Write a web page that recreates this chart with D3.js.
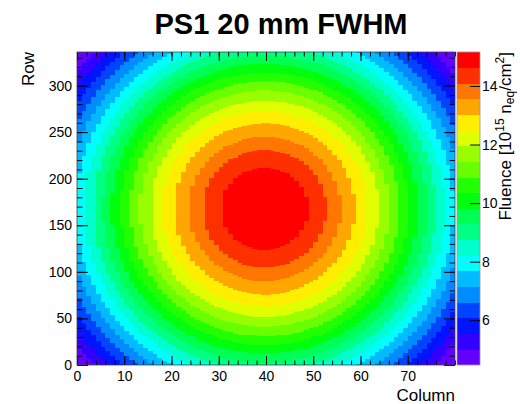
<!DOCTYPE html>
<html>
<head>
<meta charset="utf-8">
<script src="https://cdn.jsdelivr.net/npm/d3@7"></script>
<style>
  body { margin: 0; background: #fff; }
  svg { display: block; }
  text { font-family: "Liberation Sans", Arial, Helvetica, sans-serif; fill: #000; }
</style>
</head>
<body>
<div id="chart"></div>
<script>
// FE-I4 matrix: 80 columns x 336 rows
const nColumns = 80;
const nRows = 336;
// beam spot centre (column, row) and rows per column of the same length
const beamCentre = [39.7, 168];
const rowsPerColumn = 4.8;
// z axis (fluence, 10^15 neq/cm2) and its contour count
const zRange = [4.47, 15.16];
const nContours = 20;
// outer radius (columns) of each contour band, from the hottest band outwards
const bandEdges = [9.2, 13.1, 16.1, 19.1, 21.8, 24.2, 26.4, 28.5, 30.5, 32.4,
                   34.3, 36.2, 38.1, 40.0, 42.0, 44.0, 46.0, 48.0, 50.1];
const xTicks = [0, 10, 20, 30, 40, 50, 60, 70];
const yTicks = [0, 50, 100, 150, 200, 250, 300];
const zTicks = [6, 8, 10, 12, 14];

const width = 520, height = 404;
const frame = { left: 77, right: 455, top: 52, bottom: 365 };
const bar = { left: 457, right: 480 };

const svg = d3.select('#chart').append('svg')
  .attr('width', width)
  .attr('height', height);

const x = d3.scaleLinear().domain([0, nColumns]).range([frame.left, frame.right]);
const y = d3.scaleLinear().domain([0, nRows]).range([frame.bottom, frame.top]);
const z = d3.scaleLinear().domain(zRange).range([frame.bottom, frame.top]);

// ROOT "pretty" palette (50 colours, violet -> red), sampled for 20 contours
const palette = d3.range(nContours).map(k => {
  const idx = Math.floor((k + 0.99) * 50 / nContours);
  return d3.hsl(280 - (idx + 1) * 5.6, 1, 0.5).formatHex();
});
const dz = (zRange[1] - zRange[0]) / nContours;
const color = d3.scaleQuantize().domain(zRange).range(palette);

// fluence of a pixel = centre value of the band it falls in
function bandValue(col, row) {
  const dx = col + 0.5 - beamCentre[0];
  const dy = (row + 0.5 - beamCentre[1]) / rowsPerColumn;
  const r = Math.hypot(dx, dy);
  let i = bandEdges.findIndex(e => r < e);
  const band = i < 0 ? 0 : nContours - 1 - i;
  return zRange[0] + (band + 0.5) * dz;
}

// merge equal pixels of a column into runs
const cells = [];
for (let c = 0; c < nColumns; c++) {
  let start = 0, v = bandValue(c, 0);
  for (let r = 1; r <= nRows; r++) {
    const w = r < nRows ? bandValue(c, r) : null;
    if (w !== v) {
      cells.push({ col: c, r0: start, r1: r, value: v });
      start = r; v = w;
    }
  }
}

svg.append('g')
  .attr('shape-rendering', 'crispEdges')
  .selectAll('rect')
  .data(cells)
  .enter()
  .append('rect')
  .attr('x', d => x(d.col))
  .attr('width', d => x(d.col + 1) - x(d.col) + 0.3)
  .attr('y', d => y(d.r1))
  .attr('height', d => y(d.r0) - y(d.r1) + 0.3)
  .attr('fill', d => color(d.value));

// axes with ROOT style inward ticks
const axisStyle = g => {
  g.select('.domain').remove();
  g.selectAll('line').attr('stroke', '#000');
  g.selectAll('text').style('font-size', '14px').attr('fill', '#000');
};

svg.append('g').attr('transform', `translate(0,${frame.bottom})`)
  .call(d3.axisBottom(x).tickValues(d3.range(0, 81, 2)).tickSize(-4.5).tickFormat(''))
  .call(axisStyle);
svg.append('g').attr('transform', `translate(0,${frame.bottom})`)
  .call(d3.axisBottom(x).tickValues(xTicks).tickSize(-9).tickPadding(6).tickFormat(d3.format('d')))
  .call(axisStyle);
svg.append('g').attr('transform', `translate(0,${frame.top})`)
  .call(d3.axisTop(x).tickValues(d3.range(0, 81, 2)).tickSize(-4.5).tickFormat(''))
  .call(axisStyle);
svg.append('g').attr('transform', `translate(0,${frame.top})`)
  .call(d3.axisTop(x).tickValues(xTicks).tickSize(-9).tickFormat(''))
  .call(axisStyle);

svg.append('g').attr('transform', `translate(${frame.left},0)`)
  .call(d3.axisLeft(y).tickValues(d3.range(0, 337, 10)).tickSize(-5.5).tickFormat(''))
  .call(axisStyle);
svg.append('g').attr('transform', `translate(${frame.left},0)`)
  .call(d3.axisLeft(y).tickValues(yTicks).tickSize(-11).tickPadding(5).tickFormat(d3.format('d')))
  .call(axisStyle);
svg.append('g').attr('transform', `translate(${frame.right},0)`)
  .call(d3.axisRight(y).tickValues(d3.range(0, 337, 10)).tickSize(-5.5).tickFormat(''))
  .call(axisStyle);
svg.append('g').attr('transform', `translate(${frame.right},0)`)
  .call(d3.axisRight(y).tickValues(yTicks).tickSize(-11).tickFormat(''))
  .call(axisStyle);

svg.append('rect')
  .attr('x', frame.left).attr('y', frame.top)
  .attr('width', frame.right - frame.left)
  .attr('height', frame.bottom - frame.top)
  .attr('fill', 'none').attr('stroke', '#444').attr('stroke-width', 0.8);

// colour bar
const levels = d3.range(nContours).map(k => zRange[0] + k * dz);
svg.append('g')
  .attr('shape-rendering', 'crispEdges')
  .selectAll('rect')
  .data(levels)
  .enter()
  .append('rect')
  .attr('x', bar.left)
  .attr('width', bar.right - bar.left)
  .attr('y', d => z(d + dz))
  .attr('height', d => z(d) - z(d + dz) + 0.3)
  .attr('fill', d => color(d + dz / 2));

svg.append('rect')
  .attr('x', bar.left).attr('y', frame.top)
  .attr('width', bar.right - bar.left)
  .attr('height', frame.bottom - frame.top)
  .attr('fill', 'none').attr('stroke', '#999').attr('stroke-width', 0.8);

svg.append('g').attr('transform', `translate(${bar.right},0)`)
  .call(d3.axisRight(z).tickValues(zTicks).tickSize(-10).tickPadding(3).tickFormat(d3.format('d')))
  .call(axisStyle)
  .call(g => g.selectAll('text').attr('x', 2));

// titles
svg.append('text')
  .attr('x', 281).attr('y', 34)
  .attr('text-anchor', 'middle')
  .style('font-size', '29px').style('font-weight', 'bold')
  .text('PS1 20 mm FWHM');

svg.append('text')
  .attr('x', frame.right).attr('y', 401)
  .attr('text-anchor', 'end')
  .style('font-size', '17px')
  .text('Column');

svg.append('text')
  .attr('transform', `translate(34,${frame.top}) rotate(-90)`)
  .attr('text-anchor', 'end')
  .style('font-size', '17px')
  .text('Row');

const zTitle = svg.append('text')
  .attr('transform', `translate(511,${frame.top}) rotate(-90)`)
  .attr('text-anchor', 'end')
  .style('font-size', '17px');
zTitle.append('tspan').text('Fluence [10');
zTitle.append('tspan').attr('dy', -7).style('font-size', '12px').text('15');
zTitle.append('tspan').attr('dy', 7).text(' n');
zTitle.append('tspan').attr('dy', 3).style('font-size', '12px').text('eq');
zTitle.append('tspan').attr('dy', -3).text('/cm');
zTitle.append('tspan').attr('dy', -7).style('font-size', '12px').text('2');
zTitle.append('tspan').attr('dy', 7).text(']');
</script>
</body>
</html>
